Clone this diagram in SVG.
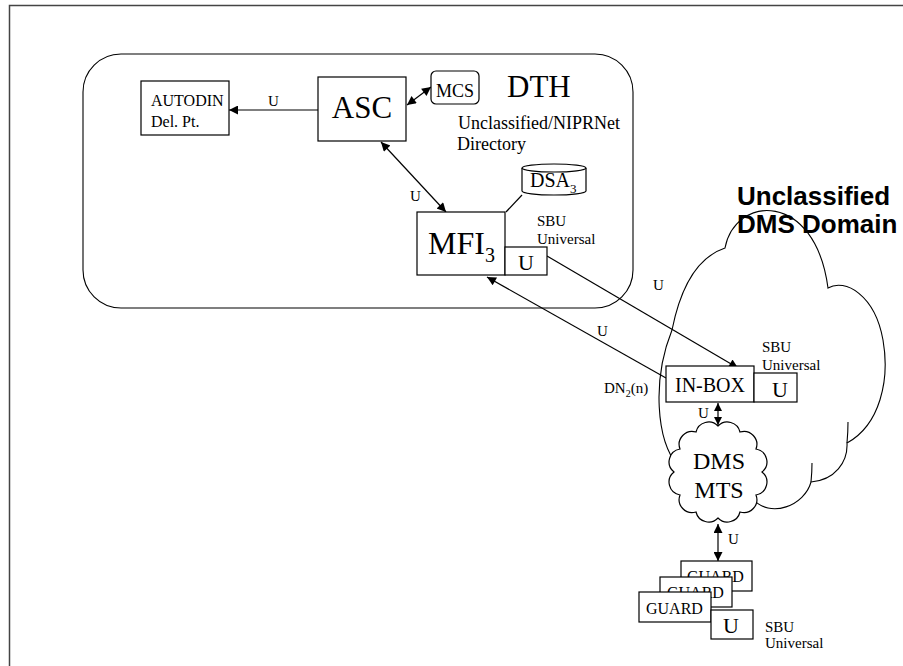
<svg xmlns="http://www.w3.org/2000/svg" width="903" height="666" viewBox="0 0 903 666">
<defs>
<style>
.t{font-family:"Liberation Serif","Times New Roman",serif;fill:#000}
.b{fill:#fff;stroke:#000;stroke-width:1.2}
.ln{fill:none;stroke:#000;stroke-width:1.2}
.c{fill:none;stroke:#000;stroke-width:1.1}
</style>
<marker id="ah" viewBox="0 0 10 10" refX="10" refY="5" markerWidth="11" markerHeight="9" markerUnits="userSpaceOnUse" orient="auto-start-reverse"><path d="M0,0 L10,5 L0,10 z" fill="#000"/></marker>
<marker id="as" viewBox="0 0 10 10" refX="10" refY="5" markerWidth="8" markerHeight="8" markerUnits="userSpaceOnUse" orient="auto-start-reverse"><path d="M0,0 L10,5 L0,10 z" fill="#000"/></marker>
</defs>
<rect width="903" height="666" fill="#fff"/>
<rect x="9.5" y="5.5" width="1000" height="1000" fill="none" stroke="#444" stroke-width="1.5"/>

<g id="domain-cloud">
<path class="c" d="M678 466 C656 440 652 380 672 330 C680 290 695 258 725 248 C735 195 815 190 828 288 C845 278 875 295 883 340 C890 380 880 425 847 443 C848 462 835 480 811 482 C805 505 770 520 752 498"/>
<path class="c" d="M848 422 Q848 432 847 443 M812 463 Q812 472 811 482"/>
<text x="737" y="205" style="font-family:'Liberation Sans',Arial,sans-serif;font-weight:bold;font-size:26px">Unclassified</text>
<text x="737" y="233" style="font-family:'Liberation Sans',Arial,sans-serif;font-weight:bold;font-size:26px">DMS Domain</text>
</g>

<g id="dth">
<rect class="c" x="83" y="54" width="550" height="254" rx="38" ry="38"/>
<text class="t" x="507" y="97" font-size="31">DTH</text>
<text class="t" x="458" y="129" font-size="18">Unclassified/NIPRNet</text>
<text class="t" x="457" y="150" font-size="18">Directory</text>
</g>

<g id="connectors">
<path class="ln" d="M318 110 L229 110" marker-end="url(#ah)"/>
<path class="ln" d="M407 105 L431 87" marker-start="url(#ah)" marker-end="url(#ah)"/>
<path class="ln" d="M381 142 L446 212" marker-start="url(#ah)" marker-end="url(#ah)"/>
<path class="ln" d="M547 256 L738 368" marker-end="url(#ah)"/>
<path class="ln" d="M666 378 L487 277" marker-end="url(#ah)"/>
<path class="ln" d="M718 403 L718 425" marker-start="url(#as)" marker-end="url(#as)"/>
<path class="ln" d="M718 524 L718 561" marker-start="url(#ah)" marker-end="url(#ah)"/>
<path class="ln" d="M522 195 L506 212"/>
<text class="t" x="268" y="106" font-size="15">U</text>
<text class="t" x="410" y="201" font-size="15">U</text>
<text class="t" x="653" y="290" font-size="15">U</text>
<text class="t" x="597" y="336" font-size="15">U</text>
<text class="t" x="698" y="418" font-size="15">U</text>
<text class="t" x="728" y="544" font-size="15">U</text>
</g>

<g id="autodin">
<rect class="b" x="141" y="81" width="88" height="54"/>
<text class="t" x="151" y="106" font-size="16">AUTODIN</text>
<text class="t" x="151" y="127" font-size="16">Del. Pt.</text>
</g>

<g id="asc">
<rect class="b" x="318" y="77" width="88" height="64"/>
<text class="t" x="362" y="118" font-size="31" text-anchor="middle">ASC</text>
</g>

<g id="mcs">
<rect class="b" x="431" y="71" width="48" height="33" rx="5"/>
<text class="t" x="455" y="97" font-size="18" text-anchor="middle">MCS</text>
</g>

<g id="dsa">
<path class="b" d="M522 168 V191 A32 4 0 0 0 586 191 V168"/>
<ellipse class="b" cx="554" cy="168" rx="32" ry="4"/>
<text class="t" x="530" y="187" font-size="20">DSA<tspan font-size="13" dy="6">3</tspan></text>
</g>

<g id="mfi">
<rect class="b" x="417" y="212" width="88" height="63"/>
<text class="t" x="428" y="254" font-size="32">MFI<tspan font-size="20" dy="8">3</tspan></text>
<rect class="b" x="505" y="247" width="42" height="28"/>
<text class="t" x="526" y="270" font-size="22" text-anchor="middle">U</text>
<text class="t" x="537" y="226" font-size="15">SBU</text>
<text class="t" x="537" y="244" font-size="15">Universal</text>
</g>

<g id="inbox">
<rect class="b" x="666" y="366" width="88" height="36"/>
<text class="t" x="710" y="392" font-size="20" text-anchor="middle">IN-BOX</text>
<rect class="b" x="754" y="373" width="43" height="29"/>
<text class="t" x="780" y="397" font-size="22" text-anchor="middle">U</text>
<text class="t" x="762" y="352" font-size="15">SBU</text>
<text class="t" x="762" y="370" font-size="15">Universal</text>
<text class="t" x="604" y="393" font-size="15">DN<tspan font-size="10" dy="4">2</tspan><tspan dy="-4">(n)</tspan></text>
</g>

<g id="dms-mts">
<path class="b" d="M718 426 A13 13 0 0 1 740 432 A13 13 0 0 1 756 449 A13 13 0 0 1 762 472 A13 13 0 0 1 756 495 A13 13 0 0 1 740 512 A13 13 0 0 1 718 518 A13 13 0 0 1 696 512 A13 13 0 0 1 680 495 A13 13 0 0 1 674 472 A13 13 0 0 1 680 449 A13 13 0 0 1 696 432 A13 13 0 0 1 718 426 Z"/>
<text class="t" x="719" y="469" font-size="24" text-anchor="middle">DMS</text>
<text class="t" x="719" y="498" font-size="24" text-anchor="middle">MTS</text>
</g>

<g id="guards">
<rect class="b" x="681" y="561" width="71" height="30"/>
<text class="t" x="687" y="582" font-size="16">GUARD</text>
<rect class="b" x="660" y="577" width="72" height="30"/>
<text class="t" x="667" y="598" font-size="16">GUARD</text>
<rect class="b" x="639" y="592" width="72" height="30"/>
<text class="t" x="646" y="614" font-size="16">GUARD</text>
<rect class="b" x="711" y="610" width="42" height="29"/>
<text class="t" x="731" y="633" font-size="22" text-anchor="middle">U</text>
<text class="t" x="765" y="632" font-size="15">SBU</text>
<text class="t" x="765" y="648" font-size="15">Universal</text>
</g>
</svg>
